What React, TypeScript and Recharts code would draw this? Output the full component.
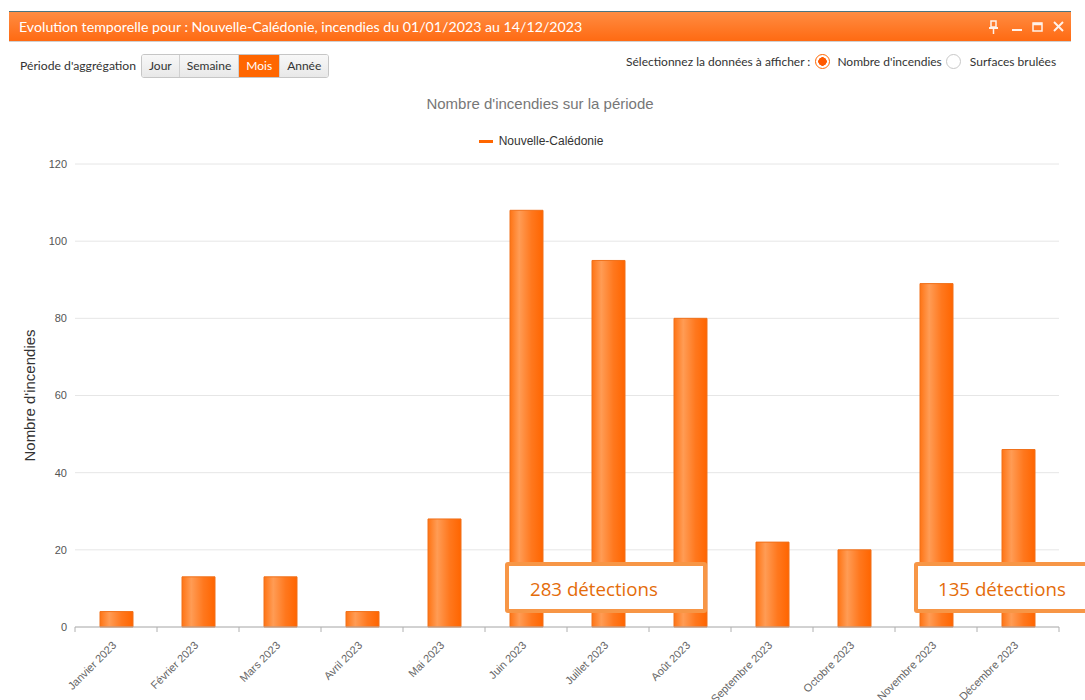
import React from "react";
import { BarChart, Bar, XAxis, YAxis, CartesianGrid, Legend } from "recharts";

const months = [
  "Janvier 2023",
  "Février 2023",
  "Mars 2023",
  "Avril 2023",
  "Mai 2023",
  "Juin 2023",
  "Juillet 2023",
  "Août 2023",
  "Septembre 2023",
  "Octobre 2023",
  "Novembre 2023",
  "Décembre 2023",
];
const incendies = [4, 13, 13, 4, 28, 108, 95, 80, 22, 20, 89, 46];
const yTicks = [0, 20, 40, 60, 80, 100, 120];
const seriesName = "Nouvelle-Calédonie";
const periodButtons = ["Jour", "Semaine", "Mois", "Année"];
const activePeriod = "Mois";
const annotations = ["283 détections", "135 détections"];

const data = months.map((m, i) => ({ month: m, value: incendies[i] }));

const CHART_W = 1085;
const CHART_H = 700;
const MARGIN = { top: 131, right: 26, bottom: 3, left: 15 };
const Y_W = 60;
const PLOT_W = CHART_W - MARGIN.left - MARGIN.right - Y_W;
const ORANGE = "#FF6600";

const XTick = (props: any) => {
  const { x, y, payload, index } = props;
  const band = PLOT_W / months.length;
  const ay = y - 8;
  return (
    <g>
      <line x1={x - band / 2} x2={x - band / 2} y1={ay} y2={ay + 5} stroke="#b0b0b0" />
      {index === months.length - 1 && (
        <line x1={x + band / 2} x2={x + band / 2} y1={ay} y2={ay + 5} stroke="#b0b0b0" />
      )}
      <text
        x={x + 1}
        y={y + 11}
        textAnchor="end"
        fontSize={11}
        fill="#666"
        fontFamily="'Liberation Sans', Arial, sans-serif"
        transform={`rotate(-45, ${x + 1}, ${y + 11})`}
      >
        {payload.value}
      </text>
    </g>
  );
};

const LegendContent = () => (
  <div
    style={{
      height: 33,
      display: "flex",
      justifyContent: "center",
      alignItems: "flex-start",
      paddingLeft: 8,
      boxSizing: "border-box",
    }}
  >
    <div style={{ display: "flex", alignItems: "center", height: 20 }}>
      <div style={{ width: 14, height: 3, background: ORANGE, marginRight: 6 }} />
      <span style={{ fontSize: 12, color: "#333", fontFamily: "'Liberation Sans', Arial, sans-serif" }}>
        {seriesName}
      </span>
    </div>
  </div>
);

const Radio = ({ checked }: { checked: boolean }) => (
  <span
    style={{
      display: "inline-block",
      width: 15,
      height: 15,
      borderRadius: "50%",
      boxSizing: "border-box",
      border: checked ? `1px solid ${ORANGE}` : "1px solid #c8c8c8",
      background: checked ? "radial-gradient(circle, #FF5A00 0 4px, #fff 4.5px)" : "#fff",
      verticalAlign: "middle",
    }}
  />
);

export default function App() {
  const headerFont = "Lato, 'Open Sans', sans-serif";
  return (
    <div
      style={{
        position: "absolute",
        left: 0,
        top: 0,
        width: CHART_W,
        height: CHART_H,
        background: "#fff",
        overflow: "hidden",
        fontFamily: headerFont,
      }}
    >
      {/* window title bar */}
      <div
        style={{
          position: "absolute",
          left: 9,
          top: 11,
          width: 1062,
          height: 31,
          boxSizing: "border-box",
          borderTop: "1px solid #4b7480",
          borderBottom: "1px solid #d0d0d0",
          background: "linear-gradient(#FF8C42, #FF6A12)",
          color: "#fff",
          fontSize: 14.2,
          lineHeight: "29px",
          paddingLeft: 10,
          whiteSpace: "nowrap",
        }}
      >
        Evolution temporelle pour : Nouvelle-Calédonie, incendies du 01/01/2023 au 14/12/2023
        <svg style={{ position: "absolute", left: 978, top: 6 }} width={84} height={18}>
          <g stroke="#fff" fill="none" strokeWidth={2} opacity={0.9}>
            <rect x={4} y={3} width={5} height={6} strokeWidth={1.5} />
            <line x1={2} x2={11} y1={10} y2={10} />
            <line x1={6.5} x2={6.5} y1={10} y2={16} strokeWidth={1.5} />
            <line x1={25} x2={35} y1={12} y2={12} />
            <rect x={46} y={5} width={9} height={8} strokeWidth={1.5} />
            <line x1={46} x2={55} y1={6} y2={6} strokeWidth={2.5} />
            <line x1={67} x2={76} y1={4} y2={13} />
            <line x1={76} x2={67} y1={4} y2={13} />
          </g>
        </svg>
      </div>

      {/* period selector */}
      <div style={{ position: "absolute", left: 20, top: 58, fontSize: 12.2, color: "#333", whiteSpace: "nowrap" }}>
        Période d'aggrégation
      </div>
      <div
        style={{
          position: "absolute",
          left: 141,
          top: 54,
          height: 24,
          display: "flex",
          border: "1px solid #c6c6c6",
          borderRadius: 3,
          boxSizing: "border-box",
          overflow: "hidden",
        }}
      >
        {periodButtons.map((b, i) => (
          <div
            key={b}
            style={{
              fontSize: 12,
              padding: "0 7px",
              lineHeight: "22px",
              whiteSpace: "nowrap",
              color: b === activePeriod ? "#fff" : "#333",
              background: b === activePeriod ? ORANGE : "linear-gradient(#f8f8f8, #e8e8e8)",
              borderLeft: i === 0 ? "none" : "1px solid #d0d0d0",
            }}
          >
            {b}
          </div>
        ))}
      </div>

      {/* data selector */}
      <div
        style={{
          position: "absolute",
          left: 626,
          top: 52,
          fontSize: 12,
          color: "#333",
          whiteSpace: "nowrap",
          display: "flex",
          alignItems: "center",
          height: 18,
        }}
      >
        <span>Sélectionnez la données à afficher :</span>
        <span style={{ marginLeft: 5, marginRight: 7, display: "inline-flex" }}>
          <Radio checked={true} />
        </span>
        <span>Nombre d'incendies</span>
        <span style={{ marginLeft: 4, marginRight: 9, display: "inline-flex" }}>
          <Radio checked={false} />
        </span>
        <span>Surfaces brulées</span>
      </div>

      {/* chart title */}
      <div
        style={{
          position: "absolute",
          left: 0,
          width: CHART_W,
          top: 95,
          textAlign: "center",
          fontSize: 15,
          color: "#777",
          fontFamily: "'Liberation Sans', Arial, sans-serif",
          paddingRight: 5,
          boxSizing: "border-box",
        }}
      >
        Nombre d'incendies sur la période
      </div>

      <div style={{ position: "absolute", left: 0, top: 0 }}>
        <BarChart width={CHART_W} height={CHART_H} data={data} margin={MARGIN}>
          <defs>
            <linearGradient id="barGrad" x1="0" y1="0" x2="1" y2="0">
              <stop offset="0%" stopColor="#FF7414" />
              <stop offset="28%" stopColor="#FF9C55" />
              <stop offset="65%" stopColor="#FF781E" />
              <stop offset="100%" stopColor="#FF6500" />
            </linearGradient>
          </defs>
          <CartesianGrid vertical={false} stroke="#e6e6e6" />
          <Legend verticalAlign="top" align="center" content={<LegendContent />} />
          <XAxis
            dataKey="month"
            interval={0}
            tick={<XTick />}
            tickLine={false}
            axisLine={{ stroke: "#b0b0b0" }}
            height={70}
          />
          <YAxis
            width={Y_W}
            domain={[0, 120]}
            ticks={yTicks}
            axisLine={false}
            tickLine={false}
            tick={{ fontSize: 11, fill: "#555", fontFamily: "'Liberation Sans', Arial, sans-serif" }}
            label={{
              value: "Nombre d'incendies",
              angle: -90,
              position: "insideLeft",
              offset: 15,
              style: {
                textAnchor: "middle",
                fontSize: 15,
                fill: "#333",
                fontFamily: "'Liberation Sans', Arial, sans-serif",
              },
            }}
          />
          <Bar
            dataKey="value"
            name={seriesName}
            fill="url(#barGrad)"
            stroke="#F0701A"
            strokeWidth={1}
            barSize={33}
            isAnimationActive={false}
          />
        </BarChart>
      </div>

      {/* annotation boxes */}
      {annotations.map((t, i) => (
        <div
          key={t}
          style={{
            position: "absolute",
            left: i === 0 ? 505 : 914,
            top: 562,
            width: i === 0 ? 202 : 200,
            height: 51,
            boxSizing: "border-box",
            border: "4px solid #F79646",
            borderRadius: 3,
            background: "#fff",
            color: "#E46C0A",
            fontSize: 18.7,
            fontFamily: "'Open Sans', sans-serif",
            lineHeight: "45px",
            paddingLeft: i === 0 ? 21 : 20,
            whiteSpace: "nowrap",
          }}
        >
          {t}
        </div>
      ))}
    </div>
  );
}
